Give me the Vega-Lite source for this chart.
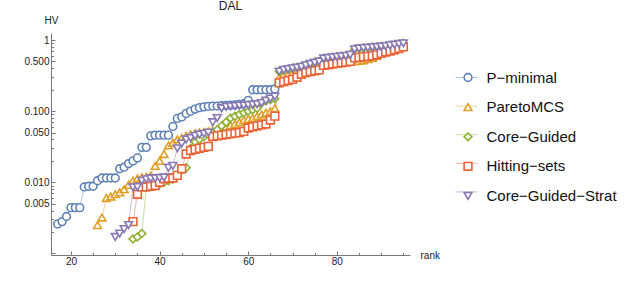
{
"$schema": "https://vega.github.io/schema/vega-lite/v6.json",
"autosize": "none",
"width": 359, "height": 222,
"padding": {"left": 51, "top": 33, "right": 230, "bottom": 36},
"background": "white",
"config": {"view": {"stroke": null}, "font": "Liberation Sans"},
"title": {"text": "DAL", "fontSize": 12, "fontWeight": "normal", "color": "#222", "offset": 2},
"data": {"values": [
{"method":"P−minimal","rank":17,"HV":0.0026},{"method":"P−minimal","rank":18,"HV":0.0028},{"method":"P−minimal","rank":19,"HV":0.0033},{"method":"P−minimal","rank":20,"HV":0.0044},{"method":"P−minimal","rank":21,"HV":0.0044},{"method":"P−minimal","rank":22,"HV":0.0044},{"method":"P−minimal","rank":23,"HV":0.0086},{"method":"P−minimal","rank":24,"HV":0.0088},{"method":"P−minimal","rank":25,"HV":0.0088},{"method":"P−minimal","rank":26,"HV":0.0105},{"method":"P−minimal","rank":27,"HV":0.0115},{"method":"P−minimal","rank":28,"HV":0.0115},{"method":"P−minimal","rank":29,"HV":0.0115},{"method":"P−minimal","rank":30,"HV":0.0115},{"method":"P−minimal","rank":31,"HV":0.0155},{"method":"P−minimal","rank":32,"HV":0.0163},{"method":"P−minimal","rank":33,"HV":0.0183},{"method":"P−minimal","rank":34,"HV":0.020},{"method":"P−minimal","rank":35,"HV":0.022},{"method":"P−minimal","rank":36,"HV":0.031},{"method":"P−minimal","rank":37,"HV":0.031},{"method":"P−minimal","rank":38,"HV":0.045},{"method":"P−minimal","rank":39,"HV":0.046},{"method":"P−minimal","rank":40,"HV":0.046},{"method":"P−minimal","rank":41,"HV":0.046},{"method":"P−minimal","rank":42,"HV":0.046},{"method":"P−minimal","rank":43,"HV":0.061},{"method":"P−minimal","rank":44,"HV":0.079},{"method":"P−minimal","rank":45,"HV":0.083},{"method":"P−minimal","rank":46,"HV":0.093},{"method":"P−minimal","rank":47,"HV":0.100},{"method":"P−minimal","rank":48,"HV":0.107},{"method":"P−minimal","rank":49,"HV":0.112},{"method":"P−minimal","rank":50,"HV":0.115},{"method":"P−minimal","rank":51,"HV":0.117},{"method":"P−minimal","rank":52,"HV":0.118},{"method":"P−minimal","rank":53,"HV":0.118},{"method":"P−minimal","rank":54,"HV":0.119},{"method":"P−minimal","rank":55,"HV":0.120},{"method":"P−minimal","rank":56,"HV":0.121},{"method":"P−minimal","rank":57,"HV":0.122},{"method":"P−minimal","rank":58,"HV":0.124},{"method":"P−minimal","rank":59,"HV":0.127},{"method":"P−minimal","rank":60,"HV":0.142},{"method":"P−minimal","rank":61,"HV":0.20},{"method":"P−minimal","rank":62,"HV":0.20},{"method":"P−minimal","rank":63,"HV":0.20},{"method":"P−minimal","rank":64,"HV":0.20},{"method":"P−minimal","rank":65,"HV":0.20},{"method":"P−minimal","rank":66,"HV":0.205},{"method":"P−minimal","rank":67,"HV":0.25},{"method":"P−minimal","rank":68,"HV":0.26},{"method":"P−minimal","rank":69,"HV":0.27},{"method":"P−minimal","rank":70,"HV":0.28},{"method":"P−minimal","rank":71,"HV":0.30},{"method":"P−minimal","rank":72,"HV":0.33},{"method":"P−minimal","rank":73,"HV":0.35},{"method":"P−minimal","rank":74,"HV":0.36},{"method":"P−minimal","rank":75,"HV":0.37},{"method":"P−minimal","rank":76,"HV":0.38},{"method":"P−minimal","rank":77,"HV":0.44},{"method":"P−minimal","rank":78,"HV":0.45},{"method":"P−minimal","rank":79,"HV":0.46},{"method":"P−minimal","rank":80,"HV":0.47},{"method":"P−minimal","rank":81,"HV":0.48},{"method":"P−minimal","rank":82,"HV":0.49},{"method":"P−minimal","rank":83,"HV":0.50},{"method":"P−minimal","rank":84,"HV":0.56},{"method":"P−minimal","rank":85,"HV":0.57},{"method":"P−minimal","rank":86,"HV":0.58},{"method":"P−minimal","rank":87,"HV":0.59},{"method":"P−minimal","rank":88,"HV":0.60},{"method":"P−minimal","rank":89,"HV":0.62},{"method":"P−minimal","rank":90,"HV":0.65},{"method":"P−minimal","rank":91,"HV":0.68},{"method":"P−minimal","rank":92,"HV":0.70},{"method":"P−minimal","rank":93,"HV":0.73},{"method":"P−minimal","rank":94,"HV":0.76},{"method":"P−minimal","rank":95,"HV":0.80},
{"method":"ParetoMCS","rank":26,"HV":0.0025},{"method":"ParetoMCS","rank":27,"HV":0.0032},{"method":"ParetoMCS","rank":28,"HV":0.006},{"method":"ParetoMCS","rank":29,"HV":0.0063},{"method":"ParetoMCS","rank":30,"HV":0.0068},{"method":"ParetoMCS","rank":31,"HV":0.0072},{"method":"ParetoMCS","rank":32,"HV":0.008},{"method":"ParetoMCS","rank":33,"HV":0.0092},{"method":"ParetoMCS","rank":34,"HV":0.0105},{"method":"ParetoMCS","rank":35,"HV":0.0113},{"method":"ParetoMCS","rank":36,"HV":0.0118},{"method":"ParetoMCS","rank":37,"HV":0.012},{"method":"ParetoMCS","rank":38,"HV":0.0125},{"method":"ParetoMCS","rank":39,"HV":0.017},{"method":"ParetoMCS","rank":40,"HV":0.020},{"method":"ParetoMCS","rank":41,"HV":0.025},{"method":"ParetoMCS","rank":42,"HV":0.033},{"method":"ParetoMCS","rank":43,"HV":0.036},{"method":"ParetoMCS","rank":44,"HV":0.040},{"method":"ParetoMCS","rank":45,"HV":0.042},{"method":"ParetoMCS","rank":46,"HV":0.045},{"method":"ParetoMCS","rank":47,"HV":0.047},{"method":"ParetoMCS","rank":48,"HV":0.049},{"method":"ParetoMCS","rank":49,"HV":0.050},{"method":"ParetoMCS","rank":50,"HV":0.051},{"method":"ParetoMCS","rank":51,"HV":0.052},{"method":"ParetoMCS","rank":52,"HV":0.053},{"method":"ParetoMCS","rank":53,"HV":0.055},{"method":"ParetoMCS","rank":54,"HV":0.057},{"method":"ParetoMCS","rank":55,"HV":0.060},{"method":"ParetoMCS","rank":56,"HV":0.063},{"method":"ParetoMCS","rank":57,"HV":0.066},{"method":"ParetoMCS","rank":58,"HV":0.070},{"method":"ParetoMCS","rank":59,"HV":0.075},{"method":"ParetoMCS","rank":60,"HV":0.078},{"method":"ParetoMCS","rank":61,"HV":0.080},{"method":"ParetoMCS","rank":62,"HV":0.085},{"method":"ParetoMCS","rank":63,"HV":0.090},{"method":"ParetoMCS","rank":64,"HV":0.095},{"method":"ParetoMCS","rank":65,"HV":0.100},{"method":"ParetoMCS","rank":66,"HV":0.110},{"method":"ParetoMCS","rank":67,"HV":0.30},{"method":"ParetoMCS","rank":68,"HV":0.32},{"method":"ParetoMCS","rank":69,"HV":0.33},{"method":"ParetoMCS","rank":70,"HV":0.34},{"method":"ParetoMCS","rank":71,"HV":0.36},{"method":"ParetoMCS","rank":72,"HV":0.37},{"method":"ParetoMCS","rank":73,"HV":0.38},{"method":"ParetoMCS","rank":74,"HV":0.40},{"method":"ParetoMCS","rank":75,"HV":0.42},{"method":"ParetoMCS","rank":76,"HV":0.44},{"method":"ParetoMCS","rank":77,"HV":0.45},{"method":"ParetoMCS","rank":78,"HV":0.46},{"method":"ParetoMCS","rank":79,"HV":0.47},{"method":"ParetoMCS","rank":80,"HV":0.48},{"method":"ParetoMCS","rank":81,"HV":0.48},{"method":"ParetoMCS","rank":82,"HV":0.49},{"method":"ParetoMCS","rank":83,"HV":0.50},{"method":"ParetoMCS","rank":84,"HV":0.50},{"method":"ParetoMCS","rank":85,"HV":0.51},{"method":"ParetoMCS","rank":86,"HV":0.52},{"method":"ParetoMCS","rank":87,"HV":0.54},{"method":"ParetoMCS","rank":88,"HV":0.56},{"method":"ParetoMCS","rank":89,"HV":0.60},{"method":"ParetoMCS","rank":90,"HV":0.65},{"method":"ParetoMCS","rank":91,"HV":0.70},{"method":"ParetoMCS","rank":92,"HV":0.73},{"method":"ParetoMCS","rank":93,"HV":0.76},{"method":"ParetoMCS","rank":94,"HV":0.80},{"method":"ParetoMCS","rank":95,"HV":0.85},
{"method":"Core−Guided","rank":34,"HV":0.0016},{"method":"Core−Guided","rank":35,"HV":0.0017},{"method":"Core−Guided","rank":36,"HV":0.0019},{"method":"Core−Guided","rank":37,"HV":0.0085},{"method":"Core−Guided","rank":38,"HV":0.0088},{"method":"Core−Guided","rank":39,"HV":0.009},{"method":"Core−Guided","rank":40,"HV":0.0095},{"method":"Core−Guided","rank":41,"HV":0.010},{"method":"Core−Guided","rank":42,"HV":0.0105},{"method":"Core−Guided","rank":43,"HV":0.011},{"method":"Core−Guided","rank":44,"HV":0.0125},{"method":"Core−Guided","rank":45,"HV":0.015},{"method":"Core−Guided","rank":46,"HV":0.016},{"method":"Core−Guided","rank":47,"HV":0.030},{"method":"Core−Guided","rank":48,"HV":0.037},{"method":"Core−Guided","rank":49,"HV":0.040},{"method":"Core−Guided","rank":50,"HV":0.044},{"method":"Core−Guided","rank":51,"HV":0.047},{"method":"Core−Guided","rank":52,"HV":0.050},{"method":"Core−Guided","rank":53,"HV":0.055},{"method":"Core−Guided","rank":54,"HV":0.062},{"method":"Core−Guided","rank":55,"HV":0.070},{"method":"Core−Guided","rank":56,"HV":0.080},{"method":"Core−Guided","rank":57,"HV":0.085},{"method":"Core−Guided","rank":58,"HV":0.090},{"method":"Core−Guided","rank":59,"HV":0.095},{"method":"Core−Guided","rank":60,"HV":0.100},{"method":"Core−Guided","rank":61,"HV":0.105},{"method":"Core−Guided","rank":62,"HV":0.110},{"method":"Core−Guided","rank":63,"HV":0.130},{"method":"Core−Guided","rank":64,"HV":0.140},{"method":"Core−Guided","rank":65,"HV":0.145},{"method":"Core−Guided","rank":66,"HV":0.150},{"method":"Core−Guided","rank":67,"HV":0.36},{"method":"Core−Guided","rank":68,"HV":0.38},{"method":"Core−Guided","rank":69,"HV":0.39},{"method":"Core−Guided","rank":70,"HV":0.40},{"method":"Core−Guided","rank":71,"HV":0.41},{"method":"Core−Guided","rank":72,"HV":0.42},{"method":"Core−Guided","rank":73,"HV":0.44},{"method":"Core−Guided","rank":74,"HV":0.46},{"method":"Core−Guided","rank":75,"HV":0.48},{"method":"Core−Guided","rank":76,"HV":0.50},{"method":"Core−Guided","rank":77,"HV":0.55},{"method":"Core−Guided","rank":78,"HV":0.56},{"method":"Core−Guided","rank":79,"HV":0.57},{"method":"Core−Guided","rank":80,"HV":0.58},{"method":"Core−Guided","rank":81,"HV":0.59},{"method":"Core−Guided","rank":82,"HV":0.60},{"method":"Core−Guided","rank":83,"HV":0.62},{"method":"Core−Guided","rank":84,"HV":0.74},{"method":"Core−Guided","rank":85,"HV":0.76},{"method":"Core−Guided","rank":86,"HV":0.77},{"method":"Core−Guided","rank":87,"HV":0.78},{"method":"Core−Guided","rank":88,"HV":0.79},{"method":"Core−Guided","rank":89,"HV":0.80},{"method":"Core−Guided","rank":90,"HV":0.81},{"method":"Core−Guided","rank":91,"HV":0.82},{"method":"Core−Guided","rank":92,"HV":0.84},{"method":"Core−Guided","rank":93,"HV":0.86},{"method":"Core−Guided","rank":94,"HV":0.88},{"method":"Core−Guided","rank":95,"HV":0.90},
{"method":"Hitting−sets","rank":34,"HV":0.0028},{"method":"Hitting−sets","rank":35,"HV":0.0068},{"method":"Hitting−sets","rank":36,"HV":0.0086},{"method":"Hitting−sets","rank":37,"HV":0.0086},{"method":"Hitting−sets","rank":38,"HV":0.0088},{"method":"Hitting−sets","rank":39,"HV":0.009},{"method":"Hitting−sets","rank":40,"HV":0.010},{"method":"Hitting−sets","rank":41,"HV":0.0112},{"method":"Hitting−sets","rank":42,"HV":0.0114},{"method":"Hitting−sets","rank":43,"HV":0.0115},{"method":"Hitting−sets","rank":44,"HV":0.0125},{"method":"Hitting−sets","rank":45,"HV":0.0155},{"method":"Hitting−sets","rank":46,"HV":0.025},{"method":"Hitting−sets","rank":47,"HV":0.028},{"method":"Hitting−sets","rank":48,"HV":0.029},{"method":"Hitting−sets","rank":49,"HV":0.030},{"method":"Hitting−sets","rank":50,"HV":0.031},{"method":"Hitting−sets","rank":51,"HV":0.032},{"method":"Hitting−sets","rank":52,"HV":0.044},{"method":"Hitting−sets","rank":53,"HV":0.045},{"method":"Hitting−sets","rank":54,"HV":0.046},{"method":"Hitting−sets","rank":55,"HV":0.047},{"method":"Hitting−sets","rank":56,"HV":0.048},{"method":"Hitting−sets","rank":57,"HV":0.049},{"method":"Hitting−sets","rank":58,"HV":0.050},{"method":"Hitting−sets","rank":59,"HV":0.052},{"method":"Hitting−sets","rank":60,"HV":0.058},{"method":"Hitting−sets","rank":61,"HV":0.060},{"method":"Hitting−sets","rank":62,"HV":0.062},{"method":"Hitting−sets","rank":63,"HV":0.064},{"method":"Hitting−sets","rank":64,"HV":0.066},{"method":"Hitting−sets","rank":65,"HV":0.075},{"method":"Hitting−sets","rank":66,"HV":0.085},{"method":"Hitting−sets","rank":67,"HV":0.25},{"method":"Hitting−sets","rank":68,"HV":0.26},{"method":"Hitting−sets","rank":69,"HV":0.27},{"method":"Hitting−sets","rank":70,"HV":0.28},{"method":"Hitting−sets","rank":71,"HV":0.30},{"method":"Hitting−sets","rank":72,"HV":0.33},{"method":"Hitting−sets","rank":73,"HV":0.35},{"method":"Hitting−sets","rank":74,"HV":0.36},{"method":"Hitting−sets","rank":75,"HV":0.37},{"method":"Hitting−sets","rank":76,"HV":0.38},{"method":"Hitting−sets","rank":77,"HV":0.44},{"method":"Hitting−sets","rank":78,"HV":0.45},{"method":"Hitting−sets","rank":79,"HV":0.46},{"method":"Hitting−sets","rank":80,"HV":0.47},{"method":"Hitting−sets","rank":81,"HV":0.48},{"method":"Hitting−sets","rank":82,"HV":0.49},{"method":"Hitting−sets","rank":83,"HV":0.50},{"method":"Hitting−sets","rank":84,"HV":0.56},{"method":"Hitting−sets","rank":85,"HV":0.57},{"method":"Hitting−sets","rank":86,"HV":0.58},{"method":"Hitting−sets","rank":87,"HV":0.59},{"method":"Hitting−sets","rank":88,"HV":0.60},{"method":"Hitting−sets","rank":89,"HV":0.62},{"method":"Hitting−sets","rank":90,"HV":0.65},{"method":"Hitting−sets","rank":91,"HV":0.68},{"method":"Hitting−sets","rank":92,"HV":0.70},{"method":"Hitting−sets","rank":93,"HV":0.73},{"method":"Hitting−sets","rank":94,"HV":0.76},{"method":"Hitting−sets","rank":95,"HV":0.80},
{"method":"Core−Guided−Strat","rank":30,"HV":0.0017},{"method":"Core−Guided−Strat","rank":31,"HV":0.0019},{"method":"Core−Guided−Strat","rank":32,"HV":0.0022},{"method":"Core−Guided−Strat","rank":33,"HV":0.0025},{"method":"Core−Guided−Strat","rank":34,"HV":0.0085},{"method":"Core−Guided−Strat","rank":35,"HV":0.0086},{"method":"Core−Guided−Strat","rank":36,"HV":0.0105},{"method":"Core−Guided−Strat","rank":37,"HV":0.011},{"method":"Core−Guided−Strat","rank":38,"HV":0.0113},{"method":"Core−Guided−Strat","rank":39,"HV":0.0114},{"method":"Core−Guided−Strat","rank":40,"HV":0.0115},{"method":"Core−Guided−Strat","rank":41,"HV":0.0117},{"method":"Core−Guided−Strat","rank":42,"HV":0.016},{"method":"Core−Guided−Strat","rank":43,"HV":0.017},{"method":"Core−Guided−Strat","rank":44,"HV":0.030},{"method":"Core−Guided−Strat","rank":45,"HV":0.035},{"method":"Core−Guided−Strat","rank":46,"HV":0.040},{"method":"Core−Guided−Strat","rank":47,"HV":0.042},{"method":"Core−Guided−Strat","rank":48,"HV":0.045},{"method":"Core−Guided−Strat","rank":49,"HV":0.047},{"method":"Core−Guided−Strat","rank":50,"HV":0.048},{"method":"Core−Guided−Strat","rank":51,"HV":0.050},{"method":"Core−Guided−Strat","rank":52,"HV":0.070},{"method":"Core−Guided−Strat","rank":53,"HV":0.080},{"method":"Core−Guided−Strat","rank":54,"HV":0.110},{"method":"Core−Guided−Strat","rank":55,"HV":0.115},{"method":"Core−Guided−Strat","rank":56,"HV":0.117},{"method":"Core−Guided−Strat","rank":57,"HV":0.118},{"method":"Core−Guided−Strat","rank":58,"HV":0.120},{"method":"Core−Guided−Strat","rank":59,"HV":0.120},{"method":"Core−Guided−Strat","rank":60,"HV":0.122},{"method":"Core−Guided−Strat","rank":61,"HV":0.123},{"method":"Core−Guided−Strat","rank":62,"HV":0.125},{"method":"Core−Guided−Strat","rank":63,"HV":0.130},{"method":"Core−Guided−Strat","rank":64,"HV":0.140},{"method":"Core−Guided−Strat","rank":65,"HV":0.150},{"method":"Core−Guided−Strat","rank":66,"HV":0.160},{"method":"Core−Guided−Strat","rank":67,"HV":0.36},{"method":"Core−Guided−Strat","rank":68,"HV":0.38},{"method":"Core−Guided−Strat","rank":69,"HV":0.39},{"method":"Core−Guided−Strat","rank":70,"HV":0.40},{"method":"Core−Guided−Strat","rank":71,"HV":0.41},{"method":"Core−Guided−Strat","rank":72,"HV":0.42},{"method":"Core−Guided−Strat","rank":73,"HV":0.44},{"method":"Core−Guided−Strat","rank":74,"HV":0.46},{"method":"Core−Guided−Strat","rank":75,"HV":0.48},{"method":"Core−Guided−Strat","rank":76,"HV":0.50},{"method":"Core−Guided−Strat","rank":77,"HV":0.55},{"method":"Core−Guided−Strat","rank":78,"HV":0.56},{"method":"Core−Guided−Strat","rank":79,"HV":0.57},{"method":"Core−Guided−Strat","rank":80,"HV":0.58},{"method":"Core−Guided−Strat","rank":81,"HV":0.59},{"method":"Core−Guided−Strat","rank":82,"HV":0.60},{"method":"Core−Guided−Strat","rank":83,"HV":0.62},{"method":"Core−Guided−Strat","rank":84,"HV":0.74},{"method":"Core−Guided−Strat","rank":85,"HV":0.76},{"method":"Core−Guided−Strat","rank":86,"HV":0.77},{"method":"Core−Guided−Strat","rank":87,"HV":0.78},{"method":"Core−Guided−Strat","rank":88,"HV":0.79},{"method":"Core−Guided−Strat","rank":89,"HV":0.80},{"method":"Core−Guided−Strat","rank":90,"HV":0.81},{"method":"Core−Guided−Strat","rank":91,"HV":0.82},{"method":"Core−Guided−Strat","rank":92,"HV":0.84},{"method":"Core−Guided−Strat","rank":93,"HV":0.86},{"method":"Core−Guided−Strat","rank":94,"HV":0.88},{"method":"Core−Guided−Strat","rank":95,"HV":0.90}
]},
"encoding": {
  "x": {"field": "rank", "type": "quantitative",
    "scale": {"domain": [15.5, 96.5], "nice": false, "zero": false},
    "axis": {"title": "rank", "titleX": 369, "titleY": 0, "titleAlign": "left", "titleBaseline": "middle", "titleFontSize": 10, "titleFontWeight": "normal", "titleColor": "#222",
      "values": [20,25,30,35,40,45,50,55,60,65,70,75,80,85,90,95],
      "labelExpr": "datum.value % 20 == 0 ? datum.label : ''",
      "tickSize": {"condition": {"test": "datum.value % 20 == 0", "value": -4}, "value": -2.5},
      "labelPadding": 5, "labelFontSize": 10, "labelColor": "#222", "domainColor": "#777", "tickColor": "#777", "grid": false, "labelOverlap": false, "labelFlush": false}},
  "y": {"field": "HV", "type": "quantitative",
    "scale": {"type": "log", "domain": [0.00095, 1.256], "nice": false},
    "axis": {"title": "HV", "titleAngle": 0, "titleX": 0, "titleY": -13, "titleAlign": "center", "titleBaseline": "middle", "titleFontSize": 10, "titleFontWeight": "normal", "titleColor": "#222",
      "values": [0.001,0.002,0.003,0.004,0.005,0.006,0.007,0.008,0.009,0.01,0.02,0.03,0.04,0.05,0.06,0.07,0.08,0.09,0.1,0.2,0.3,0.4,0.5,0.6,0.7,0.8,0.9,1],
      "labelExpr": "datum.value == 1 ? '1' : (indexof([0.5,0.1,0.05,0.01,0.005], datum.value) >= 0 ? format(datum.value, '.3f') : '')",
      "tickSize": {"condition": {"test": "indexof([1,0.5,0.1,0.05,0.01,0.005,0.001], datum.value) >= 0", "value": -4}, "value": -2.5},
      "labelPadding": 6, "labelFontSize": 10, "labelColor": "#222", "domainColor": "#777", "tickColor": "#777", "grid": false, "labelOverlap": false, "labelFlush": false}}
},
"layer": [
  {"mark": {"type": "line", "strokeWidth": 1, "opacity": 0.45},
   "encoding": {
     "color": {"field": "method", "type": "nominal",
       "sort": ["P−minimal","ParetoMCS","Core−Guided","Hitting−sets","Core−Guided−Strat"],
       "scale": {"range": ["#5E81B5","#E19C24","#8FB032","#EB6235","#8778B3"]},
       "legend": {"title": null, "orient": "none", "legendX": 404, "legendY": 37, "labelExpr": "''", "labelFontSize": 1, "labelOffset": 0, "symbolType": "stroke", "symbolSize": 484, "symbolStrokeWidth": 1, "symbolOpacity": 0.45, "clipHeight": 15, "rowPadding": 13.6, "direction": "vertical"}}
   }},
  {"mark": {"type": "point", "filled": true, "fill": "white", "strokeWidth": 1.6, "size": 60, "opacity": 1},
   "encoding": {
     "stroke": {"field": "method", "type": "nominal",
       "scale": {"domain": ["P−minimal","ParetoMCS","Core−Guided","Hitting−sets","Core−Guided−Strat"], "range": ["#5E81B5","#E19C24","#8FB032","#EB6235","#8778B3"]},
       "legend": {"title": null, "orient": "none", "legendX": 409.5, "legendY": 37, "labelFontSize": 15, "labelColor": "#111", "labelOffset": 11, "symbolSize": 60, "symbolStrokeWidth": 1.6, "symbolFillColor": "white", "clipHeight": 15, "rowPadding": 13.6, "direction": "vertical"}},
     "shape": {"field": "method", "type": "nominal",
       "scale": {"domain": ["P−minimal","ParetoMCS","Core−Guided","Hitting−sets","Core−Guided−Strat"], "range": ["circle","triangle-up","diamond","square","triangle-down"]}}
   }}
]
}
